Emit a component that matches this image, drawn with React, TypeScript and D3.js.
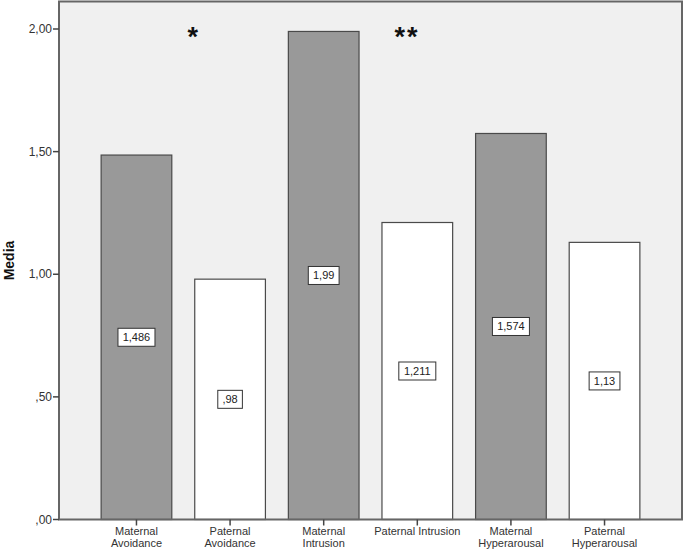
import React from "react";
import * as d3 from "d3";

const categories = [
  ["Maternal", "Avoidance"],
  ["Paternal", "Avoidance"],
  ["Maternal", "Intrusion"],
  ["Paternal Intrusion"],
  ["Maternal", "Hyperarousal"],
  ["Paternal", "Hyperarousal"],
];
const keys = ["MA", "PA", "MI", "PI", "MH", "PH"];
const values = [1.486, 0.98, 1.99, 1.211, 1.574, 1.13];
const valueLabels = ["1,486", ",98", "1,99", "1,211", "1,574", "1,13"];
const isMaternal = [true, false, true, false, true, false];
const yTicks = [0, 0.5, 1, 1.5, 2];
const yTickLabels = [",00", ",50", "1,00", "1,50", "2,00"];
const stars = [
  { at: "PA", text: "*" },
  { at: "PI", text: "**" },
];

export default function App() {
  const W = 685, H = 556;
  const left = 59, right = 682, top = 1.5, bottom = 519.5;
  const x = d3.scaleBand().domain(keys).range([left, right]).paddingInner(0.245).paddingOuter(0.45);
  const y = d3.scaleLinear().domain([0, 2]).range([bottom, 29]);
  const font = "'Liberation Sans', Arial, sans-serif";
  return (
    <svg width={W} height={H} style={{ position: "absolute", left: 0, top: 0 }}>
      <rect x={0} y={0} width={W} height={H} fill="#fff" />
      <rect x={left} y={top} width={right - left} height={bottom - top} fill="#f0f0f0" />
      {keys.map((k, i) => (
        <rect key={k} x={x(k)!} y={y(values[i])} width={x.bandwidth()} height={bottom - y(values[i])}
          fill={isMaternal[i] ? "#999999" : "#ffffff"} stroke="#4a4a4a" strokeWidth={1.2} />
      ))}
      <rect x={left} y={top} width={right - left} height={bottom - top} fill="none" stroke="#666" strokeWidth={2} />
      {yTicks.map((t, i) => (
        <g key={t}>
          <line x1={left - 6} x2={left} y1={y(t)} y2={y(t)} stroke="#444" strokeWidth={1.5} />
          <text x={left - 7} y={y(t)} dy="0.35em" textAnchor="end" fontFamily={font} fontSize={12} fill="#333">{yTickLabels[i]}</text>
        </g>
      ))}
      {keys.map((k, i) => {
        const cx = x(k)! + x.bandwidth() / 2;
        return (
          <g key={k}>
            <line x1={cx} x2={cx} y1={bottom} y2={bottom + 6} stroke="#444" strokeWidth={1.5} />
            {categories[i].map((line, j) => (
              <text key={j} x={cx} y={bottom + 15 + j * 12} textAnchor="middle" fontFamily={font} fontSize={11} fill="#333">{line}</text>
            ))}
          </g>
        );
      })}
      {keys.map((k, i) => {
        const cx = x(k)! + x.bandwidth() / 2;
        const cy = y(values[i] / 2);
        const w = valueLabels[i].length * 6.2 + 6;
        return (
          <g key={k}>
            <rect x={cx - w / 2} y={cy - 9} width={w} height={18} fill="#fff" stroke="#333" strokeWidth={1} />
            <text x={cx} y={cy} dy="0.35em" textAnchor="middle" fontFamily={font} fontSize={11} fill="#222">{valueLabels[i]}</text>
          </g>
        );
      })}
      {stars.map((s, i) => {
        const cx = i === 0 ? x(s.at)! - 1 : x(s.at)! + 25;
        return (
          <text key={i} x={cx} y={46} textAnchor="middle" fontFamily={font} fontSize={27} fontWeight="bold" letterSpacing={2} fill="#111">{s.text}</text>
        );
      })}
      <text transform={`translate(14, ${(top + bottom) / 2}) rotate(-90)`} textAnchor="middle" fontFamily={font} fontSize={14} fontWeight="bold" fill="#111">Media</text>
    </svg>
  );
}
